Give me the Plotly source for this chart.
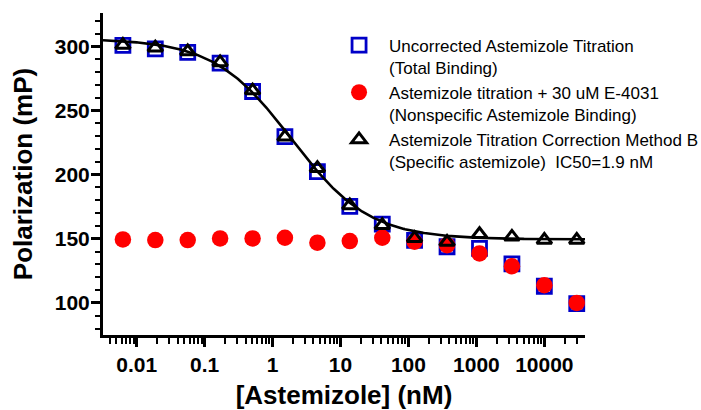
import numpy as np
import plotly.graph_objects as go

# Astemizole concentrations (nM), 3-fold dilution series
conc_nM = [0.00627, 0.0188, 0.0564, 0.169, 0.508, 1.52, 4.57, 13.7,
           41.2, 123, 370, 1111, 3333, 10000, 30000]

# Uncorrected titration (total binding), mP
total_mP = [300.8, 298.0, 295.3, 287.0, 264.8, 229.7, 202.3, 175.3,
            161.5, 148.8, 143.8, 142.5, 130.5, 113.0, 99.5]

# Titration + 30 uM E-4031 (nonspecific binding), mP
nonspecific_mP = [149.5, 149.0, 149.0, 150.3, 150.3, 150.8, 147.0, 148.2,
                  150.8, 147.7, 145.0, 138.6, 128.6, 113.8, 100.0]

# Corrected titration, method B (specific binding), mP
specific_mP = [301.0, 299.0, 296.0, 287.5, 265.5, 229.5, 205.0, 176.0,
               160.5, 150.5, 147.5, 153.5, 151.5, 149.0, 149.0]

# Four-parameter logistic fit to the specific-binding data
fit_top = 306.0
fit_bottom = 149.5
fit_ic50_nM = 1.9
fit_hill = 0.76

x_ticks = [0.01, 0.1, 1, 10, 100, 1000, 10000]
x_tick_text = ["0.01", "0.1", "1", "10", "100", "1000", "10000"]
y_ticks = [100, 150, 200, 250, 300]

legend_total = "Uncorrected Astemizole Titration<br>(Total Binding)"
legend_nonspecific = "Astemizole titration + 30 uM E-4031<br>(Nonspecific Astemizole Binding)"
legend_specific = "Astemizole Titration Correction Method B<br>(Specific astemizole)  IC50=1.9 nM"

x_range_log = [-2.4956, 4.5985]

fit_x = np.logspace(x_range_log[0], x_range_log[1], 400)
fit_y = fit_bottom + (fit_top - fit_bottom) / (1 + (fit_x / fit_ic50_nM) ** fit_hill)

FONT = "Arial, 'Liberation Sans', Helvetica, sans-serif"

fig = go.Figure()

fig.add_trace(go.Scatter(
    x=conc_nM, y=total_mP, mode="markers", name=legend_total,
    marker=dict(symbol="square", size=14, color="rgba(0,0,0,0)",
                line=dict(color="#0000C8", width=2.8)),
    cliponaxis=False,
))
fig.add_trace(go.Scatter(
    x=conc_nM, y=nonspecific_mP, mode="markers", name=legend_nonspecific,
    marker=dict(symbol="circle", size=16.5, color="#FF0000",
                line=dict(width=0)),
    cliponaxis=False,
))
fig.add_trace(go.Scatter(
    x=fit_x, y=fit_y, mode="lines", showlegend=False, hoverinfo="skip",
    line=dict(color="black", width=2.6),
))
fig.add_trace(go.Scatter(
    x=conc_nM, y=specific_mP, mode="markers", name=legend_specific,
    marker=dict(symbol="triangle-up", size=13, color="rgba(0,0,0,0)",
                line=dict(color="black", width=3)),
    cliponaxis=False,
))

axis_common = dict(
    showline=True, linecolor="black", linewidth=3,
    ticks="outside", tickcolor="black", tickwidth=2.5,
    showgrid=False, zeroline=False, mirror=False, automargin=False,
    tickfont=dict(family=FONT, size=21, color="black", weight="bold"),
)

fig.update_layout(
    width=701, height=410,
    margin=dict(l=103, r=116, t=13, b=75, autoexpand=False),
    paper_bgcolor="white", plot_bgcolor="white",
    font=dict(family=FONT, color="black"),
    xaxis=dict(
        type="log", range=x_range_log,
        tickvals=x_ticks, ticktext=x_tick_text, ticklen=9,
        ticklabelstandoff=0,
        minor=dict(ticks="outside", ticklen=5.5, tickwidth=2, tickcolor="black",
                   dtick="D1", showgrid=False),
        title=dict(text="[Astemizole] (nM)", standoff=18,
                   font=dict(family=FONT, size=26, color="black", weight="bold")),
        **axis_common,
    ),
    yaxis=dict(
        range=[75, 326], tickvals=y_ticks, ticklen=9,
        ticklabelstandoff=-3,
        minor=dict(ticks="outside", ticklen=5, tickwidth=2, tickcolor="black",
                   dtick=10, tick0=0, showgrid=False),
        title=dict(text="Polarization (mP)", standoff=15,
                   font=dict(family=FONT, size=26, color="black", weight="bold")),
        **axis_common,
    ),
    showlegend=True,
    legend=dict(
        x=0.469, y=0.955, xanchor="left", yanchor="top",
        bgcolor="rgba(0,0,0,0)", borderwidth=0,
        font=dict(family=FONT, size=17, color="black"),
        valign="top", itemwidth=50, tracegroupgap=0,
    ),
)

fig.write_html("out.html")
